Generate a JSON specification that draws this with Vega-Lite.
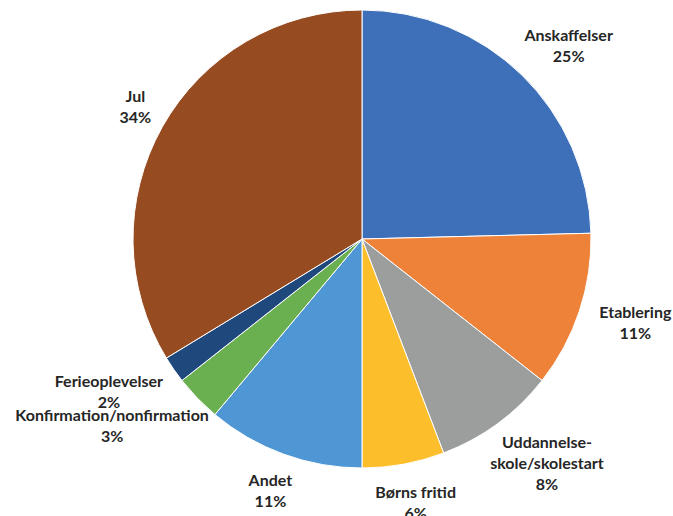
{
  "$schema": "https://vega.github.io/schema/vega-lite/v6.json",
  "autosize": "none",
  "width": 458,
  "height": 458,
  "padding": {"left": 133, "top": 10, "right": 82, "bottom": 48},
  "background": "white",
  "data": {
    "values": [
      {"i": 1, "kategori": "Anskaffelser", "andel": 24.6, "label": "Anskaffelser\n25%"},
      {"i": 2, "kategori": "Etablering", "andel": 11.0, "label": "Etablering\n11%"},
      {"i": 3, "kategori": "Uddannelse-skole/skolestart", "andel": 8.6, "label": "Uddannelse-\nskole/skolestart\n8%"},
      {"i": 4, "kategori": "Børns fritid", "andel": 5.8, "label": "Børns fritid\n6%"},
      {"i": 5, "kategori": "Andet", "andel": 11.1, "label": "Andet\n11%"},
      {"i": 6, "kategori": "Konfirmation/nonfirmation", "andel": 3.3, "label": "Konfirmation/nonfirmation\n3%"},
      {"i": 7, "kategori": "Ferieoplevelser", "andel": 1.9, "label": "Ferieoplevelser\n2%"},
      {"i": 8, "kategori": "Jul", "andel": 33.7, "label": "Jul\n34%"}
    ]
  },
  "encoding": {
    "theta": {"field": "andel", "type": "quantitative", "stack": true},
    "order": {"field": "i", "type": "quantitative"}
  },
  "layer": [
    {
      "mark": {"type": "arc", "stroke": "white", "strokeWidth": 1},
      "encoding": {
        "color": {
          "field": "kategori",
          "type": "nominal",
          "legend": null,
          "scale": {
            "domain": ["Anskaffelser", "Etablering", "Uddannelse-skole/skolestart", "Børns fritid", "Andet", "Konfirmation/nonfirmation", "Ferieoplevelser", "Jul"],
            "range": ["#3E70B9", "#EF8239", "#9C9E9E", "#FDBE2B", "#4F97D4", "#6AAF50", "#1F497D", "#974B20"]
          }
        }
      }
    },
    {
      "mark": {
        "type": "text",
        "radius": 248,
        "font": "Lato",
        "fontWeight": "bold",
        "fontSize": 16,
        "lineHeight": 21,
        "lineBreak": "\n",
        "color": "#262626",
        "align": "center",
        "baseline": "middle",
        "dx": {"expr": "sin(scale('theta', (datum.andel_start + datum.andel_end) / 2)) * 4 * max(length(split(datum.label, '\\n')[0]), length(split(datum.label, '\\n')[1] || ''), length(split(datum.label, '\\n')[2] || ''))"},
        "dy": {"expr": "-cos(scale('theta', (datum.andel_start + datum.andel_end) / 2)) * 10.5 * length(split(datum.label, '\\n')) - (length(split(datum.label, '\\n')) - 1) * 10.5"}
      },
      "encoding": {
        "text": {"field": "label", "type": "nominal"}
      }
    }
  ]
}
